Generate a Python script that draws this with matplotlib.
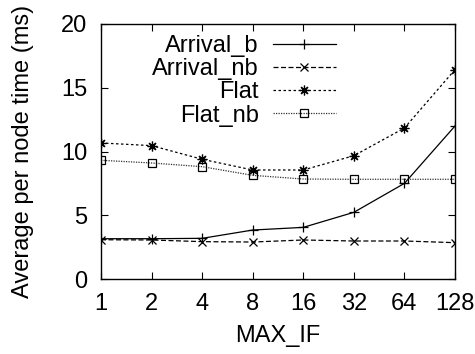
import matplotlib
matplotlib.use("Agg")
import matplotlib.pyplot as plt

x_labels = ["1", "2", "4", "8", "16", "32", "64", "128"]
arrival_b = [3.16, 3.16, 3.19, 3.84, 4.05, 5.23, 7.5, 12.0]
arrival_nb = [3.08, 3.06, 2.93, 2.9, 3.06, 2.98, 2.98, 2.85]
flat = [10.67, 10.46, 9.39, 8.55, 8.55, 9.67, 11.84, 16.42]
flat_nb = [9.31, 9.1, 8.81, 8.13, 7.84, 7.82, 7.82, 7.82]

plt.rcParams['font.family'] = ['Liberation Sans', 'DejaVu Sans']
FS = 17
plt.rcParams['font.size'] = FS

fig = plt.figure(figsize=(4.75, 3.54), dpi=100)
ax = fig.add_axes([101/475, 1-279/354, (455-101)/475, (279-24)/354])

xs = list(range(len(x_labels)))
lw = 0.9
ax.plot(xs, arrival_b, color='black', lw=lw, ls='-', marker='+', ms=7, mew=0.9, label='Arrival_b')
ax.plot(xs, arrival_nb, color='black', lw=lw, ls=(0, (4, 2)), marker='x', ms=5.5, mew=0.9, label='Arrival_nb')
ax.plot(xs, flat, color='black', lw=lw, ls=(0, (2, 2)), marker=(8, 2, 0), ms=7, mew=0.9, label='Flat')
ax.plot(xs, flat_nb, color='#333333', lw=lw, ls=(0, (1, 1)), marker='s', ms=5.5, mew=0.9,
        mfc='none', mec='black', label='Flat_nb')

ax.set_xlim(0, len(x_labels) - 1)
ax.set_ylim(0, 20)
ax.set_xticks(xs)
ax.set_xticklabels(x_labels)
ax.set_yticks([0, 5, 10, 15, 20])
ax.tick_params(direction='in', top=True, right=True, length=5, width=0.8, labelsize=FS)
ax.tick_params(axis='x', pad=10)
ax.tick_params(axis='y', pad=10)
for s in ax.spines.values():
    s.set_linewidth(1.0)

ax.set_xlabel('MAX_IF', fontsize=FS, labelpad=7)
ax.set_ylabel('Average per node time (ms)', fontsize=FS, labelpad=19)

leg = ax.legend(loc='upper right', bbox_to_anchor=((336-101)/354, (279-35)/255), markerfirst=False,
                frameon=False, fontsize=FS, handlelength=2.67, labelspacing=0.05, handletextpad=0.6,
                borderaxespad=0.0, borderpad=0.0)
for t in leg.get_texts():
    t.set_ha('right')

fig.savefig('out.png', dpi=100)
